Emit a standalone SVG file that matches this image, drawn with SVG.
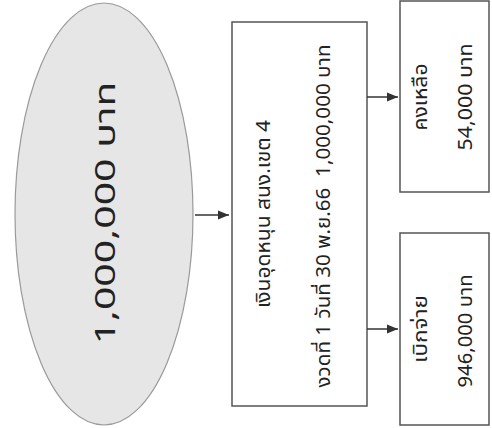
<svg xmlns="http://www.w3.org/2000/svg" width="492" height="428" viewBox="0 0 492 428">
<defs>
<marker id="arr" viewBox="0 0 11 10" refX="11" refY="5" markerWidth="11" markerHeight="10" markerUnits="userSpaceOnUse" orient="auto">
<path d="M0,0.5 L11,5 L0,9.5 Z" fill="#333"/>
</marker>
<style>
.t{font-family:"Noto Sans Thai","Loma","Garuda","Tahoma","Noto Sans","DejaVu Sans",sans-serif;fill:#222;text-anchor:middle;white-space:pre}
.box{fill:#fff;stroke:#555;stroke-width:1.5}
.ln{stroke:#333;stroke-width:1.5;fill:none}
</style>
</defs>
<rect width="492" height="428" fill="#fff"/>
<g id="source">
<ellipse cx="104" cy="214" rx="89" ry="211" fill="#e6e6e6" stroke="#9a9a9a" stroke-width="1.2"/>
<text class="t" font-size="28" transform="translate(115,213) rotate(-90)" textLength="263" lengthAdjust="spacingAndGlyphs">1,000,000 บาท</text>
</g>
<g id="grant">
<rect class="box" x="232" y="22" width="135" height="384"/>
<text class="t" font-size="19" transform="translate(270,214) rotate(-90)" textLength="188" lengthAdjust="spacingAndGlyphs">เงินอุดหนุน สนง.เขต 4</text>
<text class="t" font-size="19" transform="translate(330,216) rotate(-90)" textLength="343" lengthAdjust="spacingAndGlyphs" xml:space="preserve">งวดที่ 1 วันที่ 30 พ.ย.66  1,000,000 บาท</text>
</g>
<g id="balance">
<rect class="box" x="400" y="1" width="89" height="191"/>
<text class="t" font-size="19" transform="translate(427,97) rotate(-90)" textLength="67" lengthAdjust="spacingAndGlyphs">คงเหลือ</text>
<text class="t" font-size="19" transform="translate(472,97) rotate(-90)" textLength="107" lengthAdjust="spacingAndGlyphs">54,000 บาท</text>
</g>
<g id="spent">
<rect class="box" x="400" y="233" width="89" height="192"/>
<text class="t" font-size="19" transform="translate(427,329) rotate(-90)" textLength="68" lengthAdjust="spacingAndGlyphs">เบิกจ่าย</text>
<text class="t" font-size="19" transform="translate(472,331) rotate(-90)" textLength="113" lengthAdjust="spacingAndGlyphs">946,000 บาท</text>
</g>
<g id="connectors">
<line class="ln" x1="195" y1="215" x2="229" y2="215" marker-end="url(#arr)"/>
<line class="ln" x1="367" y1="97" x2="398" y2="97" marker-end="url(#arr)"/>
<line class="ln" x1="367" y1="329" x2="398" y2="329" marker-end="url(#arr)"/>
</g>
</svg>
